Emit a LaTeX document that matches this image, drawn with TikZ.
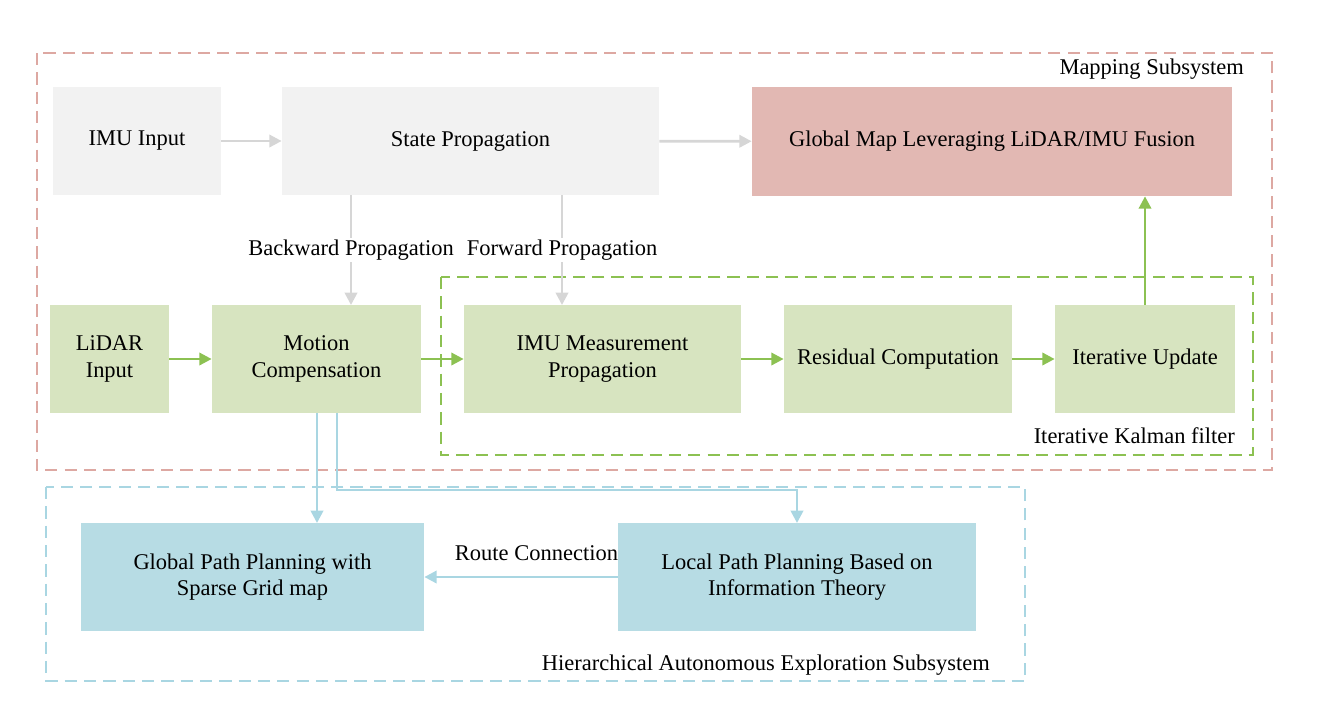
\documentclass[tikz,border=0pt]{standalone}
\usepackage{fontspec}
\setmainfont{Liberation Serif}
\usetikzlibrary{arrows.meta, positioning, calc}
\definecolor{hwgray}{HTML}{F2F2F2}
\definecolor{hwred}{HTML}{E2B8B3}
\definecolor{hwgreen}{HTML}{D7E4C0}
\definecolor{hwblue}{HTML}{B7DCE4}
\definecolor{lngray}{HTML}{D6D6D6}
\definecolor{lngreen}{HTML}{8CC152}
\definecolor{lnblue}{HTML}{A9D6E2}
\definecolor{frred}{HTML}{DDA8A2}
\begin{document}
\begin{tikzpicture}[x=0.02cm, y=-0.02cm,
  every node/.style={font=\fontsize{12.8}{15}\selectfont, text=black},
  blk/.style={rectangle, draw=none, align=center, inner sep=0pt},
  frame/.style={dashed, dash pattern=on 7pt off 4pt, line width=1.1pt},
  gar/.style={-{Triangle[length=7pt, width=7pt]}, line width=1.5pt, lngray},
  grn/.style={-{Triangle[length=7pt, width=7pt]}, line width=1.5pt, lngreen},
  blu/.style={-{Triangle[length=7pt, width=7pt]}, line width=1.5pt, lnblue},
]
\useasboundingbox (0,0) rectangle (1324,700);

% Frames
\draw[frame, frred] (37,53) rectangle (1272,470);
\node[anchor=east] (mapl) at (1250,69) {Mapping Subsystem};
\draw[frame, lngreen] (441,277) rectangle (1253,455);
\node[anchor=east] (kall) at (1241,436) {Iterative Kalman filter};
\draw[frame, lnblue] (46,487) rectangle (1025,681);
\node[anchor=east] (hiel) at (996,665) {Hierarchical Autonomous Exploration Subsystem};

% Blocks
\node[blk, fill=hwgray, minimum width=168*0.02cm, minimum height=108*0.02cm] (imu) at (137,141) {IMU Input};
\node[blk, fill=hwgray, minimum width=377*0.02cm, minimum height=108*0.02cm] (state) at (470.5,141) {State Propagation};
\node[blk, fill=hwred, minimum width=480*0.02cm, minimum height=109*0.02cm] (gmap) at (992,141.5) {Global Map Leveraging LiDAR/IMU Fusion};
\node[blk, fill=hwgreen, minimum width=119*0.02cm, minimum height=108*0.02cm] (lidar) at (109.5,359) {LiDAR\\Input};
\node[blk, fill=hwgreen, minimum width=209*0.02cm, minimum height=108*0.02cm] (motion) at (316.5,359) {Motion\\Compensation};
\node[blk, fill=hwgreen, minimum width=277*0.02cm, minimum height=108*0.02cm] (imum) at (602.5,359) {IMU Measurement\\Propagation};
\node[blk, fill=hwgreen, minimum width=228*0.02cm, minimum height=108*0.02cm] (resid) at (898,359) {Residual Computation};
\node[blk, fill=hwgreen, minimum width=180*0.02cm, minimum height=108*0.02cm] (iter) at (1145,359) {Iterative Update};
\node[blk, fill=hwblue, minimum width=343*0.02cm, minimum height=108*0.02cm] (gpath) at (252.5,577) {Global Path Planning with\\Sparse Grid map};
\node[blk, fill=hwblue, minimum width=358*0.02cm, minimum height=108*0.02cm] (lpath) at (797,577) {Local Path Planning Based on\\Information Theory};

% Connectors
\draw[gar] (351,195) -- node[fill=white, inner sep=1pt] {Backward Propagation} (351,305);
\draw[gar] (562,195) -- node[fill=white, inner sep=1pt] {Forward Propagation} (562,305);
\draw[gar] (imu) -- (state);
\draw[gar] (state) -- (gmap);
\draw[grn] (lidar) -- (motion);
\draw[grn] (motion) -- (imum);
\draw[grn] (imum) -- (resid);
\draw[grn] (resid) -- (iter);
\draw[grn] (iter.north) -- (iter.north |- gmap.south);
\draw[blu] (317,413) -- (317,523);
\draw[blu] (337,413) -- (337,490) -- (797,490) -- (797,523);
\draw[blu] (lpath.west) -- node[pos=0.42, above, yshift=5pt] {Route Connection} (gpath.east);
\end{tikzpicture}
\end{document}
